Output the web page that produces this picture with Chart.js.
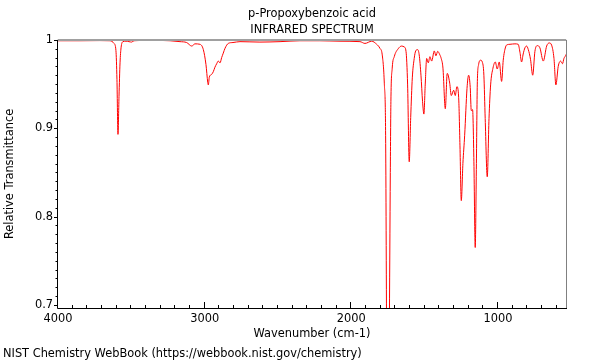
<!DOCTYPE html>
<html>
<head>
<meta charset="utf-8">
<title>p-Propoxybenzoic acid IR spectrum</title>
<script src="https://cdn.jsdelivr.net/npm/chart.js@4/dist/chart.umd.min.js"></script>
<style>
  html, body { margin: 0; padding: 0; background: #fff; }
  #wrap { position: relative; width: 600px; height: 360px; }
  #footer {
    position: absolute; left: 3px; top: 346px;
    font: 11.4px "DejaVu Sans", sans-serif; line-height: 14px; color: #000;
    white-space: nowrap;
  }
</style>
</head>
<body>
<div id="wrap">
  <canvas id="ir-chart" width="600" height="360"></canvas>
  <div id="footer">NIST Chemistry WebBook (https://webbook.nist.gov/chemistry)</div>
</div>
<script>
// spectrum (wavenumber in cm-1, relative transmittance)
const wavenumbers = [
  4000, 3850, 3714, 3645, 3618, 3605, 3598, 3591, 3584, 3577, 3570, 3557, 3536, 3516, 3498, 3482,
  3373, 3236, 3168, 3123, 3088, 3066, 3032, 3009, 2991, 2979, 2975, 2968, 2952, 2941, 2930, 2918,
  2907, 2895, 2884, 2873, 2861, 2839, 2807, 2759, 2623, 2486, 2350, 2214, 2077, 1941, 1907, 1861,
  1827, 1805, 1789, 1775, 1766, 1759, 1750, 1741, 1734, 1730, 1721, 1707, 1680, 1657, 1639, 1627,
  1616, 1605, 1595, 1584, 1571, 1561, 1548, 1537, 1525, 1514, 1505, 1496, 1486, 1475, 1464, 1452,
  1434, 1423, 1411, 1396, 1387, 1375, 1359, 1346, 1341, 1329, 1318, 1302, 1291, 1280, 1268, 1259,
  1250, 1239, 1227, 1211, 1200, 1189, 1182, 1173, 1164, 1155, 1147, 1141, 1132, 1118, 1107, 1096,
  1087, 1073, 1061, 1050, 1034, 1018, 1005, 991, 975, 964, 948, 937, 918, 884, 862, 850,
  839, 828, 816, 805, 793, 778, 763, 748, 732, 714, 691, 668, 650, 634, 618, 605,
  589, 573, 560, 550, 539, 530
];
const transmittance = [
  0.999, 0.999, 0.9992, 0.999, 0.996, 0.988, 0.955, 0.893, 0.936, 0.974, 0.991, 0.998, 0.9985, 0.998, 0.9975, 0.999,
  0.9995, 0.999, 0.998, 0.997, 0.993, 0.9955, 0.995, 0.989, 0.972, 0.952, 0.949, 0.958, 0.961, 0.964, 0.969, 0.973,
  0.976, 0.974, 0.980, 0.985, 0.9905, 0.996, 0.997, 0.998, 0.9975, 0.998, 0.999, 0.999, 0.9985, 0.998, 0.996, 0.9985,
  0.995, 0.9905, 0.983, 0.951, 0.892, 0.66, 0.45, 0.66, 0.85, 0.930, 0.968, 0.981, 0.990, 0.993, 0.992, 0.987,
  0.949, 0.862, 0.912, 0.957, 0.979, 0.9875, 0.989, 0.983, 0.960, 0.930, 0.916, 0.949, 0.979, 0.974, 0.981, 0.976,
  0.9875, 0.982, 0.987, 0.983, 0.979, 0.968, 0.922, 0.962, 0.961, 0.951, 0.937, 0.943, 0.937, 0.947, 0.935, 0.88,
  0.818, 0.86, 0.892, 0.945, 0.960, 0.946, 0.920, 0.921, 0.862, 0.765, 0.86, 0.949, 0.972, 0.977, 0.975, 0.960,
  0.911, 0.845, 0.911, 0.949, 0.968, 0.975, 0.967, 0.975, 0.953, 0.977, 0.992, 0.9945, 0.995, 0.9955, 0.995, 0.986,
  0.975, 0.984, 0.991, 0.993, 0.989, 0.978, 0.960, 0.987, 0.9935, 0.991, 0.976, 0.993, 0.9965, 0.994, 0.979, 0.949,
  0.970, 0.976, 0.973, 0.979, 0.982, 0.985
];

const xMajorTicks = [4000, 3000, 2000, 1000];
const yMajorTicks = [1, 0.9, 0.8, 0.7];
const titleLines = ["p-Propoxybenzoic acid", "INFRARED SPECTRUM"];
const xAxisTitle = "Wavenumber (cm-1)";
const yAxisTitle = "Relative Transmittance";

const X_MIN = 536, X_MAX = 4000;
const Y_MIN = 0.6965, Y_MAX = 1.0;

function isMajor(list, value) {
  return list.find((t) => Math.abs(t - value) < 1e-6);
}

// frame (gray top/right, black left/bottom) and tick marks
const framePlugin = {
  id: "frameAndTicks",
  afterDraw(chart) {
    const { ctx, chartArea: a, scales } = chart;
    const x = scales.x, y = scales.y;
    ctx.save();

    ctx.strokeStyle = "#a0a0a0";
    ctx.lineWidth = 2;
    ctx.beginPath();
    ctx.moveTo(a.left, a.top);
    ctx.lineTo(a.right, a.top);
    ctx.stroke();

    ctx.lineWidth = 1;
    ctx.strokeStyle = "#808080";
    ctx.beginPath();
    ctx.moveTo(a.right + 0.5, a.top);
    ctx.lineTo(a.right + 0.5, a.bottom);
    ctx.stroke();

    ctx.strokeStyle = "#000";
    ctx.beginPath();
    ctx.moveTo(a.left - 0.5, a.top);
    ctx.lineTo(a.left - 0.5, a.bottom + 0.5);
    ctx.lineTo(a.right + 1, a.bottom + 0.5);
    ctx.stroke();

    ctx.beginPath();
    x.ticks.forEach((t) => {
      const px = Math.round(x.getPixelForValue(t.value)) - 0.5;
      const len = isMajor(xMajorTicks, t.value) !== undefined ? 6 : 3;
      ctx.moveTo(px, a.bottom);
      ctx.lineTo(px, a.bottom - len);
    });
    y.ticks.forEach((t) => {
      const py = Math.round(y.getPixelForValue(t.value)) + 0.5;
      const len = isMajor(yMajorTicks, t.value) !== undefined ? 4 : 2.5;
      ctx.moveTo(a.left, py);
      ctx.lineTo(a.left - len, py);
    });
    ctx.stroke();
    ctx.restore();
  },
};

Chart.defaults.font.family = "'DejaVu Sans', sans-serif";
Chart.defaults.font.size = 11.4;
Chart.defaults.color = "#000";

const points = wavenumbers.map((w, i) => ({ x: w, y: transmittance[i] }));

new Chart(document.getElementById("ir-chart"), {
  type: "line",
  data: {
    datasets: [
      {
        label: "IR",
        data: points,
        borderColor: "#ff0000",
        borderWidth: 1,
        pointRadius: 0,
        fill: false,
        cubicInterpolationMode: "monotone",
      },
    ],
  },
  options: {
    responsive: false,
    animation: false,
    events: [],
    layout: { padding: { left: 0, right: 34, top: 0, bottom: 0 } },
    plugins: {
      legend: { display: false },
      tooltip: { enabled: false },
      title: {
        display: true,
        fullSize: false,
        text: titleLines,
        color: "#000",
        font: { size: 11.4, weight: "normal", lineHeight: 1.42 },
        padding: { top: 6, bottom: 1.5 },
      },
    },
    scales: {
      x: {
        type: "linear",
        reverse: true,
        min: X_MIN,
        max: X_MAX,
        grid: { display: false, drawTicks: false },
        border: { display: false },
        afterBuildTicks: (scale) => {
          const list = [];
          for (let v = 600; v <= 4000; v += 100) list.push({ value: v });
          scale.ticks = list;
        },
        afterFit: (scale) => { scale.height = 52; },
        ticks: {
          autoSkip: false,
          maxRotation: 0,
          padding: 4,
          callback: (value) => {
            const m = isMajor(xMajorTicks, value);
            return m === undefined ? "" : String(m);
          },
        },
        title: {
          display: true,
          text: xAxisTitle,
          font: { size: 11.4, lineHeight: "14px" },
          padding: { top: 0, bottom: 19 },
        },
      },
      y: {
        min: Y_MIN,
        max: Y_MAX,
        grid: { display: false, drawTicks: false },
        border: { display: false },
        afterBuildTicks: (scale) => {
          const list = [];
          for (let i = 70; i <= 100; i++) list.push({ value: i / 100 });
          scale.ticks = list;
        },
        afterFit: (scale) => { scale.width = 58; },
        ticks: {
          autoSkip: false,
          padding: 5,
          callback: (value) => {
            const m = isMajor(yMajorTicks, value);
            return m === undefined ? "" : String(m);
          },
        },
        title: {
          display: true,
          text: yAxisTitle,
          font: { size: 11.4, lineHeight: "14px" },
          padding: { top: 3, bottom: 0 },
        },
      },
    },
  },
  plugins: [framePlugin],
});
</script>
</body>
</html>
